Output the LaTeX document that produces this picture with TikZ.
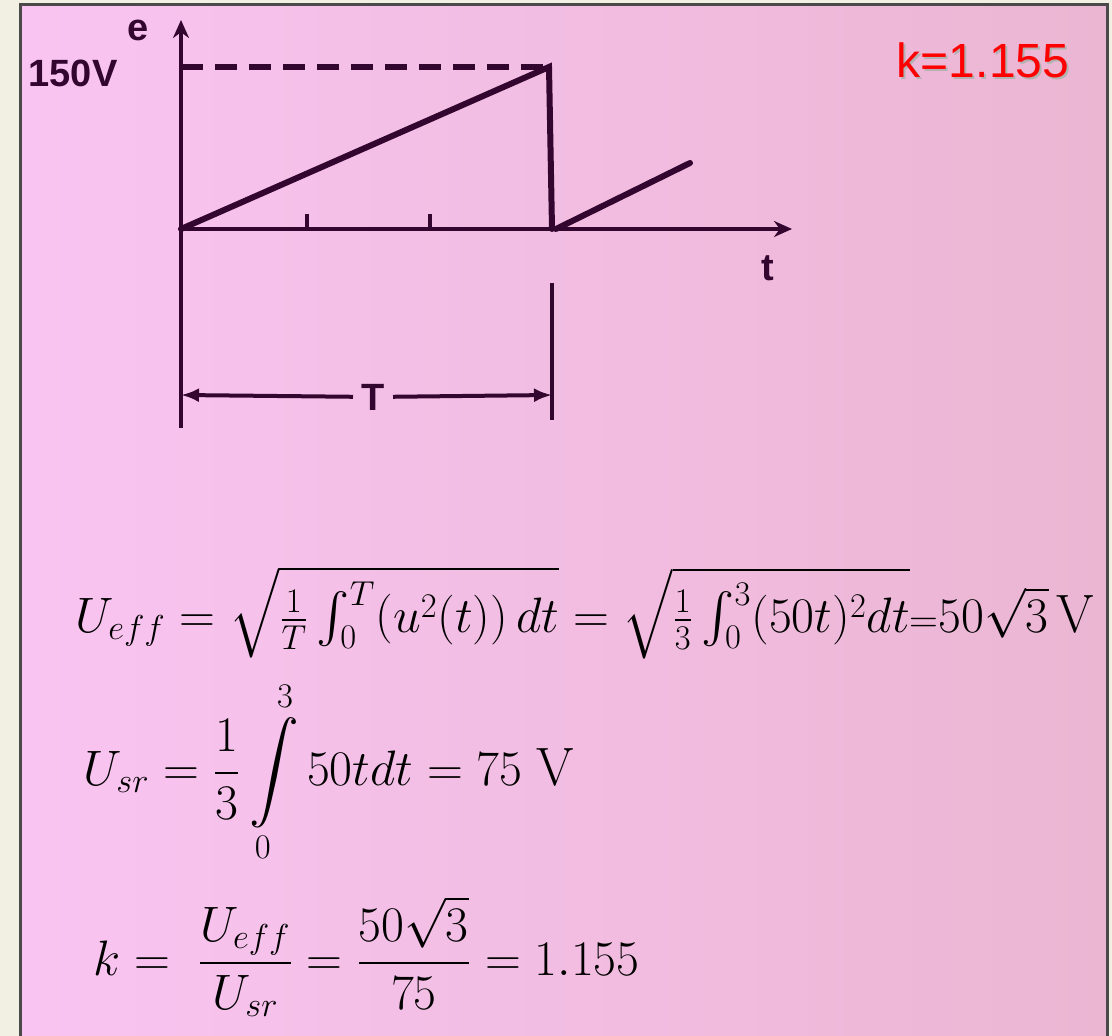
\documentclass[tikz,border=0pt]{standalone}
\usepackage{fontspec}
\usepackage{amsmath}
\newfontfamily\labelfont{Liberation Sans}
\usetikzlibrary{arrows.meta}

\definecolor{ink}{HTML}{32062F}
\definecolor{pinkL}{HTML}{F9C4F1}
\definecolor{pinkR}{HTML}{EBB6D2}
\definecolor{paper}{HTML}{F2F0E3}
\definecolor{frameline}{HTML}{4A4A4A}

\tikzset{
  axisline/.style={ink, line width=2.4pt, -{Stealth[length=9pt,width=8pt]}},
  plotline/.style={ink, line width=3pt, line cap=round},
  dimline/.style={ink, line width=2pt},
  lbl/.style={text=ink, font=\labelfont\bfseries\fontsize{19}{21}\selectfont, inner sep=0pt},
  eqn/.style={anchor=base west, inner sep=0pt, font=\fontsize{27}{32}\selectfont},
}

\begin{document}
\begin{tikzpicture}[x=0.5pt, y=-0.5pt]
    \useasboundingbox (0,0) rectangle (1112,1036);
    \clip (0,0) rectangle (1112,1036);
    \fill[paper] (0,0) rectangle (1112,1036);
    \draw[frameline, line width=1.5pt, left color=pinkL, right color=pinkR] (20,5) rectangle (1107,1050);

    % waveform
    \coordinate (O) at (181,229);
    \coordinate (etop) at (181,20);
    \coordinate (ebot) at (181,428);
    \coordinate (tend) at (792,229);
    \coordinate (peak) at (549,67);
    \coordinate (drop) at (552,229);
    \coordinate (next) at (690,163);

    \draw[ink, line width=2.4pt] (O) -- (ebot);
    \draw[axisline] (O) -- (etop);
    \draw[axisline] (O) -- (tend);
    \foreach \tx in {307,430}
        \draw[ink, line width=1.8pt] (\tx,229) -- (\tx,214);
    \draw[ink, line width=2.8pt, dash pattern=on 11pt off 6pt] (181,67) -- (peak);
    \draw[plotline] (O) -- (peak) -- (drop);
    \draw[plotline] (556,229) -- (next);

    \node[lbl] (elabel) at (138,30) {e};
    \node[lbl] (vlabel) at (73,73) {150V};
    \node[lbl] (tlabel) at (768,268) {t};

    % period
    \coordinate (Tleft) at (181,395);
    \coordinate (Tright) at (552,395);
    \draw[dimline] (552,283) -- (552,420);
    \node[lbl, inner xsep=4pt] (Tlabel) at (373,397) {T};
    \draw[dimline, -{Latex[length=9pt,width=7pt]}] (Tlabel) -- (Tleft);
    \draw[dimline, -{Latex[length=9pt,width=7pt]}] (Tlabel) -- (Tright);

    \node[text=gray!60, font=\labelfont\fontsize{24}{28}\selectfont] (kshadow) at (985,62) {k=1.155};
    \node[text=red, font=\labelfont\fontsize{24}{28}\selectfont] (kvalue) at (983,60) {k=1.155};

    % formulas
    \node[eqn] (ueff) at (75,632)
        {$U_{eff} = \sqrt{\tfrac{1}{T}\int_0^T\!\left(u^2(t)\right)dt} = \sqrt{\tfrac{1}{3}\int_0^3(50t)^2dt}$\mbox{\fontsize{20}{24}\selectfont=}$50\sqrt{3}\,\mathrm{V}$};
    \node[eqn] (usr) at (83,785)
        {$\displaystyle U_{sr} = \frac{1}{3}\int\limits_0^3 50t dt = 75\;\mathrm{V}$};
    \node[eqn] (kres) at (93,975)
        {$\displaystyle k =\; \frac{U_{eff}}{U_{sr}} = \frac{50\sqrt{3}}{75} = 1.155$};
\end{tikzpicture}
\end{document}
